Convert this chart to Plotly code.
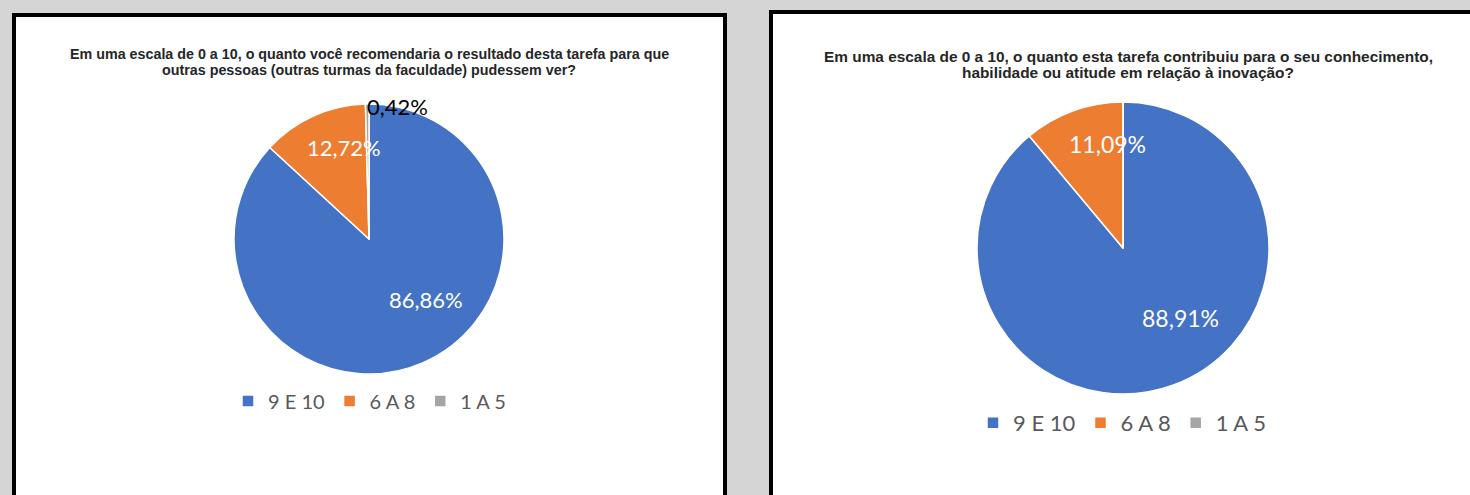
import plotly.graph_objects as go

W, H = 1470, 495

categories = ["9 E 10", "6 A 8", "1 A 5"]
colors = ["#4472C4", "#ED7D31", "#A5A5A5"]

left_title = ["Em uma escala de 0 a 10, o quanto você recomendaria o resultado desta tarefa para que",
              "outras pessoas (outras turmas da faculdade) pudessem ver?"]
left_values = [86.86, 12.72, 0.42]

right_title = ["Em uma escala de 0 a 10, o quanto esta tarefa contribuiu para o seu conhecimento,",
               "habilidade ou atitude em relação à inovação?"]
right_values = [88.91, 11.09, 0.0]


def px(x):
    return x / W


def py(y):
    return 1 - y / H


def pct(v):
    return f"{v:.2f}".replace(".", ",") + "%"


fig = go.Figure()

fig.add_trace(go.Pie(
    labels=categories, values=left_values, sort=False, direction="clockwise", rotation=0,
    marker=dict(colors=colors, line=dict(color="white", width=1.5)),
    textinfo="none", hoverinfo="label+percent",
    domain=dict(x=[px(234), px(504)], y=[py(374), py(104)]),
    legend="legend", legendgroup="left",
))
fig.add_trace(go.Pie(
    labels=categories, values=right_values, sort=False, direction="clockwise", rotation=0,
    marker=dict(colors=colors, line=dict(color="white", width=1.5)),
    textinfo="none", hoverinfo="label+percent",
    domain=dict(x=[px(977), px(1269)], y=[py(394), py(102)]),
    legend="legend2", legendgroup="right",
))

shapes = [
    dict(type="rect", xref="paper", yref="paper", x0=px(14), x1=px(725), y0=py(510), y1=py(15),
         fillcolor="white", line=dict(color="black", width=4), layer="below"),
    dict(type="rect", xref="paper", yref="paper", x0=px(771), x1=px(1490), y0=py(510), y1=py(12),
         fillcolor="white", line=dict(color="black", width=4), layer="below"),
]

annotations = []
for i, line in enumerate(left_title):
    annotations.append(dict(text=f"<b>{line}</b>", x=px(369), y=py(54 + 15.5 * i),
                            xref="paper", yref="paper", showarrow=False,
                            font=dict(family="Liberation Sans, Arial, sans-serif", size=14.3, color="#262626"),
                            xanchor="center", yanchor="middle"))
for i, line in enumerate(right_title):
    annotations.append(dict(text=f"<b>{line}</b>", x=px(1128), y=py(56 + 16.5 * i),
                            xref="paper", yref="paper", showarrow=False,
                            font=dict(family="Liberation Sans, Arial, sans-serif", size=15.4, color="#262626"),
                            xanchor="center", yanchor="middle"))

label_font = "Lato, Calibri, sans-serif"
# data labels
left_label_pos = [(426, 299, "white"), (344, 147, "white"), (397, 106, "black")]
for v, (x, y, c) in zip(left_values, left_label_pos):
    annotations.append(dict(text=pct(v), x=px(x), y=py(y), xref="paper", yref="paper",
                            showarrow=False, font=dict(family=label_font, size=22, color=c),
                            xanchor="center", yanchor="middle"))
right_label_pos = [(1180, 318, "white"), (1107, 144, "white")]
for v, (x, y, c) in zip(right_values[:2], right_label_pos):
    annotations.append(dict(text=pct(v), x=px(x), y=py(y), xref="paper", yref="paper",
                            showarrow=False, font=dict(family=label_font, size=23, color=c),
                            xanchor="center", yanchor="middle"))

legend_common = dict(orientation="h", xanchor="left", yanchor="middle", traceorder="normal",
                     bgcolor="rgba(0,0,0,0)", itemwidth=30, tracegroupgap=0)

fig.update_layout(
    width=W, height=H,
    margin=dict(l=0, r=0, t=0, b=0),
    paper_bgcolor="#d5d5d5",
    plot_bgcolor="#d5d5d5",
    shapes=shapes,
    annotations=annotations,
    showlegend=True,
    legend=dict(x=px(228), y=py(401), font=dict(family=label_font, size=20, color="#595959"),
                **legend_common),
    legend2=dict(x=px(973), y=py(423), font=dict(family=label_font, size=22, color="#595959"),
                 **legend_common),
)

fig.write_html("out.html")
